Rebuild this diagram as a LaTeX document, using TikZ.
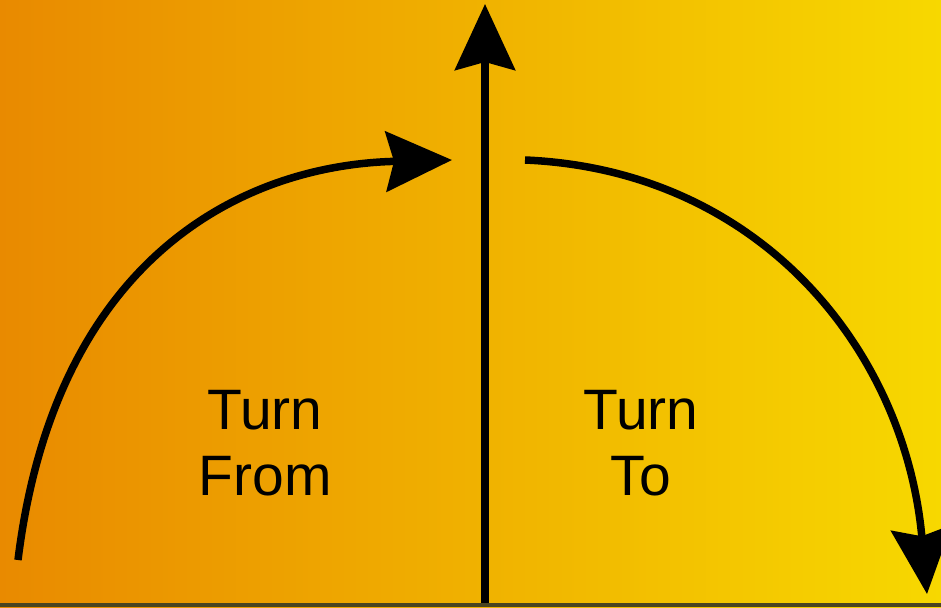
\documentclass[tikz,border=0pt]{standalone}
\usepackage{fontspec}
\setmainfont{Liberation Sans}
\usetikzlibrary{arrows.meta}
\definecolor{bgleft}{HTML}{E98A00}
\definecolor{bgright}{HTML}{F7D800}
\definecolor{bottomline}{HTML}{4A4420}
\tikzset{
  bigarrow/.style={line width=7.5pt, -{Stealth[length=66pt,width=60pt,inset=8pt]}},
  label/.style={font=\fontsize{57pt}{66pt}\selectfont, align=center, text=black}
}
\begin{document}
\begin{tikzpicture}[x=1pt,y=-1pt]
\useasboundingbox (0,0) rectangle (941,607);
\shade[left color=bgleft, right color=bgright] (0,0) rectangle (941,607);
\fill[bottomline] (0,603) rectangle (941,607);
\coordinate (vbot) at (485,603);
\coordinate (vtop) at (485,4);
\coordinate (lstart) at (18,560);
\coordinate (lend) at (452,160);
\coordinate (rstart) at (525,160);
\coordinate (rend) at (927,594);
\draw[bigarrow] (vbot) -- (vtop);
\draw[bigarrow] (lstart) .. controls (55,260) and (240,165) .. (lend);
\draw[bigarrow] (rstart) .. controls (760,170) and (905,350) .. (rend);
\node[label] (from) at (265,443) {Turn\\From};
\node[label] (to) at (641,443) {Turn\\To};
\end{tikzpicture}
\end{document}
